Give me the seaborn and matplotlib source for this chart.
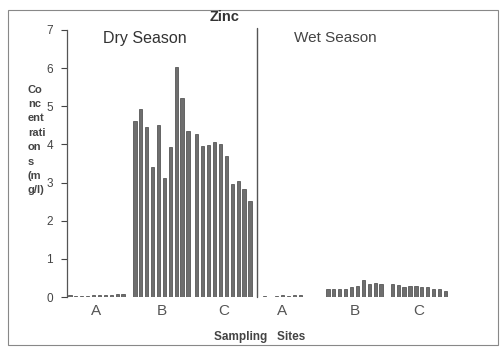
import matplotlib
matplotlib.use("Agg")
import matplotlib.pyplot as plt
import seaborn as sns
import pandas as pd
import numpy as np
from matplotlib.patches import Rectangle

sns.set_style("white")
plt.rcParams['font.family'] = ['Liberation Sans', 'DejaVu Sans']

# ---- data ----
seasons = ["Dry Season", "Wet Season"]
sites = ["A", "B", "C"]
dry_A = [0.04, 0.03, 0.03, 0.02, 0.04, 0.05, 0.05, 0.06, 0.09, 0.07]
dry_B = [4.62, 4.93, 4.45, 3.42, 4.52, 3.12, 3.93, 6.02, 5.22, 4.35]
dry_C = [4.27, 3.96, 3.98, 4.07, 4.02, 3.70, 2.97, 3.05, 2.83, 2.52]
wet_A = [0.03, 0.0, 0.03, 0.04, 0.03, 0.04, 0.04]
wet_B = [0.22, 0.20, 0.20, 0.22, 0.25, 0.30, 0.44, 0.35, 0.38, 0.35]
wet_C = [0.35, 0.32, 0.25, 0.30, 0.28, 0.26, 0.25, 0.22, 0.20, 0.16]
y_ticks = [0, 1, 2, 3, 4, 5, 6, 7]

groups = [("Dry Season", "A", dry_A), ("Dry Season", "B", dry_B), ("Dry Season", "C", dry_C),
          ("Wet Season", "A", wet_A), ("Wet Season", "B", wet_B), ("Wet Season", "C", wet_C)]
# layout: slot offsets where each group starts
starts = [0, 11, 21.5, 33, 43.7, 54.6]
divider = 32.2

rows = []
centers = []
for (season, site, vals), s0 in zip(groups, starts):
    for i, v in enumerate(vals):
        rows.append({"season": season, "site": site, "pos": s0 + i + 0.5, "value": v})
    centers.append(s0 + len(vals) / 2)
df = pd.DataFrame(rows)

fig = plt.figure(figsize=(5.01, 3.49), dpi=100)
W, H = 501, 349
ax = fig.add_axes([67 / W, 52 / H, 428 / W, 267 / H])

sns.barplot(data=df, x="pos", y="value", native_scale=True, width=0.55,
            color="#6e6e6e", edgecolor="#444444", linewidth=0.5, ax=ax,
            errorbar=None, saturation=1)

ax.set_xlim(0, 72.5)
ax.set_ylim(0, 7)
ax.set_yticks(y_ticks)
ax.set_yticklabels([str(t) for t in y_ticks], color="#444444", fontsize=8.5)
ax.tick_params(axis="y", direction="out", length=4, width=0.8, color="#444444", pad=6, left=True)
ax.set_xticks([])
ax.set_xlabel("")
ax.set_ylabel("")
for sp in ["top", "right", "bottom"]:
    ax.spines[sp].set_visible(False)
ax.spines["left"].set_color("#555555")
ax.spines["left"].set_linewidth(0.9)

ax.plot([divider, divider], [0, 7.05], color="#555555", lw=1.0, clip_on=False)

for c, (season, site, vals) in zip(centers, groups):
    ax.text(c, -0.18, site, ha="center", va="top", fontsize=11, color="#555555")

ax.text(centers[1] - 2.8, 6.78, "Dry Season", ha="center", va="center", fontsize=11.5, color="#333333")
ax.text(centers[4] - 3.2, 6.78, "Wet Season", ha="center", va="center", fontsize=11, color="#444444")

fig.text(225 / W, 1 - 17 / H, "Zinc", ha="center", va="center", fontsize=10.5, fontweight="bold", color="#333333")
fig.text(260 / W, 1 - 337 / H, "Sampling   Sites", ha="center", va="center", fontsize=8.5,
         fontweight="bold", color="#444444")
fig.text(28 / W, 1 - 140 / H, "Co\nnc\nent\nrati\non\ns\n(m\ng/l)", ha="left", va="center",
         fontsize=8, fontweight="bold", color="#444444", linespacing=1.55)

fig.add_artist(Rectangle((8 / W, 4 / H), 490 / W, 335 / H, transform=fig.transFigure,
                         fill=False, edgecolor="#888888", lw=0.8))

fig.savefig("out.png", dpi=100)
